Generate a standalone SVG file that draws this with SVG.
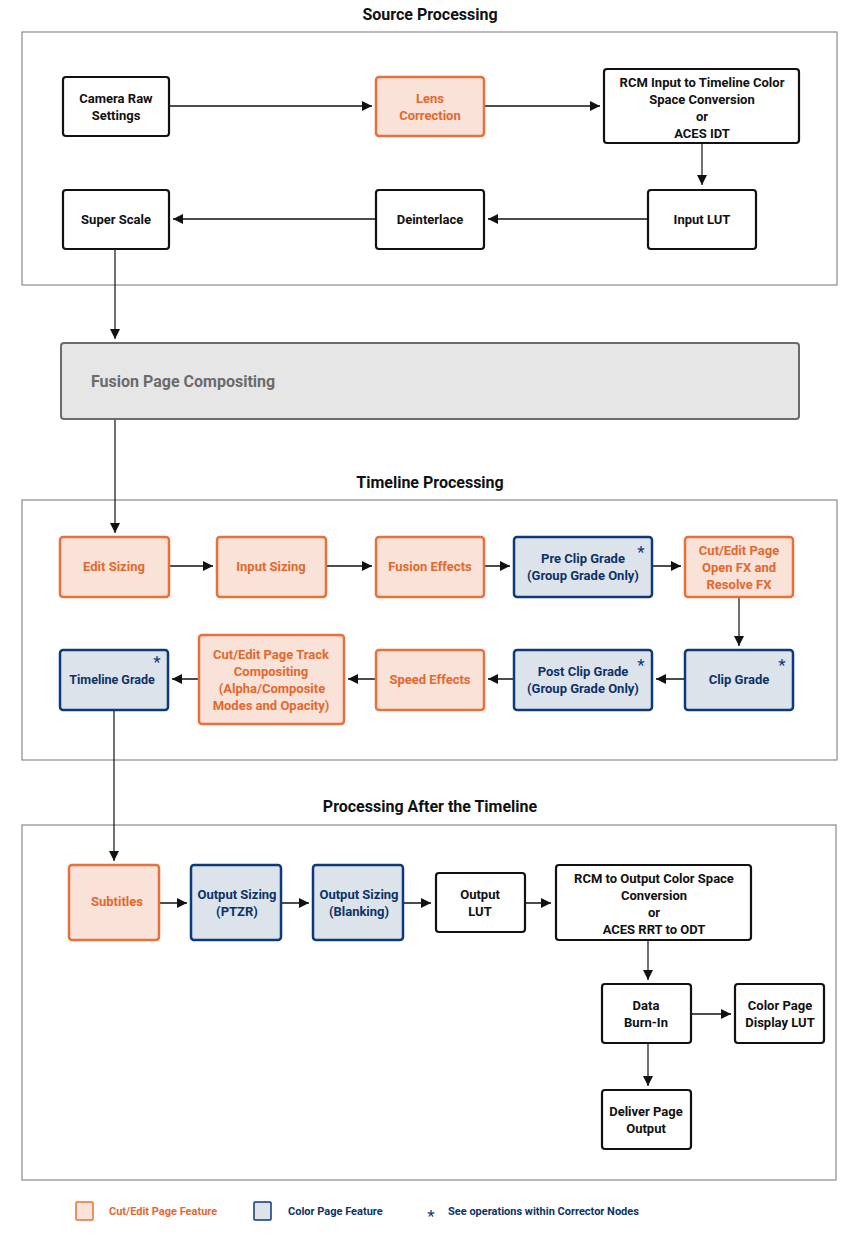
<svg xmlns="http://www.w3.org/2000/svg" width="865" height="1235" viewBox="0 0 865 1235">
<style>
text{font-family:Roboto,"Liberation Sans",sans-serif;font-weight:bold;font-size:13px;text-anchor:middle}
.title{font-size:16px;fill:#111}
.frame{fill:none;stroke:#8a8a8a;stroke-width:1.2}
.w rect{fill:#fff;stroke:#111;stroke-width:2.2}
.w text{fill:#111}
.o rect{fill:#f9e2d8;stroke:#e8703a;stroke-width:2.5}
.o text{fill:#e4682e}
.b rect{fill:#dde3eb;stroke:#0c3a7b;stroke-width:2.5}
.b text{fill:#0c3368}
.b text.ast{font-size:17px;font-weight:normal;fill:#0c3a7b}
.c line{stroke:#111;stroke-width:1.5}
.c .v{stroke-width:1.2}
.leg{font-size:11px;text-anchor:start}
</style>
<defs>
<marker id="ah" viewBox="0 0 10 10" refX="10" refY="5" markerWidth="10" markerHeight="10" markerUnits="userSpaceOnUse" orient="auto">
<path d="M0,0 L10,5 L0,10 z" fill="#111"/>
</marker>
</defs>

<text class="title" x="430" y="20">Source Processing</text>
<rect class="frame" x="22" y="32" width="815" height="253"/>
<text class="title" x="430" y="488">Timeline Processing</text>
<rect class="frame" x="22" y="500" width="815" height="260"/>
<text class="title" x="430" y="812">Processing After the Timeline</text>
<rect class="frame" x="22" y="825" width="814" height="355"/>

<g id="connectors" class="c">
<line x1="169" y1="106" x2="372" y2="106" marker-end="url(#ah)"/>
<line x1="484" y1="106" x2="600" y2="106" marker-end="url(#ah)"/>
<line class="v" x1="702" y1="143" x2="702" y2="185" marker-end="url(#ah)"/>
<line x1="648" y1="219" x2="488" y2="219" marker-end="url(#ah)"/>
<line x1="376" y1="219" x2="173" y2="219" marker-end="url(#ah)"/>
<line class="v" x1="115" y1="249" x2="115" y2="339" marker-end="url(#ah)"/>
<line class="v" x1="115" y1="419" x2="115" y2="533" marker-end="url(#ah)"/>
<line x1="169" y1="566" x2="213" y2="566" marker-end="url(#ah)"/>
<line x1="326" y1="566" x2="372" y2="566" marker-end="url(#ah)"/>
<line x1="484" y1="566" x2="510" y2="566" marker-end="url(#ah)"/>
<line x1="652" y1="566" x2="681" y2="566" marker-end="url(#ah)"/>
<line class="v" x1="739" y1="597" x2="739" y2="646" marker-end="url(#ah)"/>
<line x1="685" y1="679" x2="656" y2="679" marker-end="url(#ah)"/>
<line x1="514" y1="679" x2="488" y2="679" marker-end="url(#ah)"/>
<line x1="376" y1="679" x2="348" y2="679" marker-end="url(#ah)"/>
<line x1="199" y1="679" x2="172" y2="679" marker-end="url(#ah)"/>
<line class="v" x1="114" y1="710" x2="114" y2="861" marker-end="url(#ah)"/>
<line x1="159" y1="903" x2="187" y2="903" marker-end="url(#ah)"/>
<line x1="281" y1="903" x2="309" y2="903" marker-end="url(#ah)"/>
<line x1="403" y1="903" x2="431" y2="903" marker-end="url(#ah)"/>
<line x1="525" y1="903" x2="551" y2="903" marker-end="url(#ah)"/>
<line class="v" x1="648" y1="940" x2="648" y2="980" marker-end="url(#ah)"/>
<line x1="691" y1="1014" x2="731" y2="1014" marker-end="url(#ah)"/>
<line class="v" x1="648" y1="1043" x2="648" y2="1086" marker-end="url(#ah)"/>
</g>

<g id="camera-raw" class="w"><rect x="63" y="77" width="106" height="59" rx="3"/><text x="116" y="103">Camera Raw</text><text x="116" y="120">Settings</text></g>
<g id="lens-correction" class="o"><rect x="376" y="77" width="108" height="59" rx="3"/><text x="430" y="103">Lens</text><text x="430" y="120">Correction</text></g>
<g id="rcm-input" class="w"><rect x="604" y="69" width="195" height="74" rx="3"/><text x="702" y="87">RCM Input to Timeline Color</text><text x="702" y="104">Space Conversion</text><text x="702" y="121">or</text><text x="702" y="138">ACES IDT</text></g>
<g id="super-scale" class="w"><rect x="63" y="190" width="106" height="59" rx="3"/><text x="116" y="224">Super Scale</text></g>
<g id="deinterlace" class="w"><rect x="376" y="190" width="108" height="59" rx="3"/><text x="430" y="224">Deinterlace</text></g>
<g id="input-lut" class="w"><rect x="648" y="190" width="108" height="59" rx="3"/><text x="702" y="224">Input LUT</text></g>

<g id="fusion-page"><rect x="61" y="343" width="738" height="76" rx="3" fill="#e6e6e6" stroke="#6b6b6b" stroke-width="2"/><text x="91" y="387" style="text-anchor:start;font-size:16px;fill:#6b6b6b">Fusion Page Compositing</text></g>

<g id="edit-sizing" class="o"><rect x="60" y="537" width="109" height="60" rx="3"/><text x="114" y="571">Edit Sizing</text></g>
<g id="input-sizing" class="o"><rect x="217" y="537" width="109" height="60" rx="3"/><text x="271" y="571">Input Sizing</text></g>
<g id="fusion-effects" class="o"><rect x="376" y="537" width="108" height="60" rx="3"/><text x="430" y="571">Fusion Effects</text></g>
<g id="pre-clip-grade" class="b"><rect x="514" y="537" width="138" height="60" rx="3"/><text x="583" y="563">Pre Clip Grade</text><text x="583" y="580">(Group Grade Only)</text><text class="ast" x="641" y="558">*</text></g>
<g id="open-fx" class="o"><rect x="685" y="537" width="108" height="60" rx="3"/><text x="739" y="555">Cut/Edit Page</text><text x="739" y="572">Open FX and</text><text x="739" y="589">Resolve FX</text></g>
<g id="timeline-grade" class="b"><rect x="60" y="650" width="108" height="60" rx="3"/><text x="112" y="684" style="font-size:12.5px">Timeline Grade</text><text class="ast" x="157" y="668">*</text></g>
<g id="track-compositing" class="o"><rect x="199" y="635" width="145" height="89" rx="3"/><text x="271" y="659">Cut/Edit Page Track</text><text x="271" y="676">Compositing</text><text x="272" y="693">(Alpha/Composite</text><text x="271" y="710">Modes and Opacity)</text></g>
<g id="speed-effects" class="o"><rect x="376" y="650" width="108" height="60" rx="3"/><text x="430" y="684">Speed Effects</text></g>
<g id="post-clip-grade" class="b"><rect x="514" y="650" width="138" height="60" rx="3"/><text x="583" y="676">Post Clip Grade</text><text x="583" y="693">(Group Grade Only)</text><text class="ast" x="641" y="671">*</text></g>
<g id="clip-grade" class="b"><rect x="685" y="650" width="108" height="60" rx="3"/><text x="739" y="684">Clip Grade</text><text class="ast" x="782" y="671">*</text></g>

<g id="subtitles" class="o"><rect x="69" y="865" width="90" height="75" rx="3"/><text x="117" y="906">Subtitles</text></g>
<g id="output-sizing-ptzr" class="b"><rect x="191" y="865" width="90" height="75" rx="3"/><text x="237" y="899">Output Sizing</text><text x="237" y="916">(PTZR)</text></g>
<g id="output-sizing-blanking" class="b"><rect x="313" y="865" width="90" height="75" rx="3"/><text x="359" y="899">Output Sizing</text><text x="359" y="916">(Blanking)</text></g>
<g id="output-lut" class="w"><rect x="436" y="873" width="89" height="59" rx="3"/><text x="480" y="899">Output</text><text x="480" y="916">LUT</text></g>
<g id="rcm-output" class="w"><rect x="556" y="865" width="195" height="75" rx="3"/><text x="654" y="883">RCM to Output Color Space</text><text x="654" y="900">Conversion</text><text x="654" y="917">or</text><text x="654" y="934">ACES RRT to ODT</text></g>
<g id="data-burn-in" class="w"><rect x="602" y="984" width="89" height="59" rx="3"/><text x="646" y="1010">Data</text><text x="646" y="1027">Burn-In</text></g>
<g id="display-lut" class="w"><rect x="735" y="984" width="89" height="59" rx="3"/><text x="780" y="1010">Color Page</text><text x="780" y="1027">Display LUT</text></g>
<g id="deliver-output" class="w"><rect x="602" y="1090" width="89" height="59" rx="3"/><text x="646" y="1116">Deliver Page</text><text x="646" y="1133">Output</text></g>

<g id="legend">
<rect x="76" y="1202" width="17" height="18" rx="1" fill="#f9e2d8" stroke="#e8703a" stroke-width="1.5"/>
<text class="leg" x="109" y="1215" fill="#e4682e">Cut/Edit Page Feature</text>
<rect x="254" y="1202" width="17" height="18" rx="1" fill="#dde3eb" stroke="#0c3a7b" stroke-width="1.5"/>
<text class="leg" x="288" y="1215" fill="#0c3368">Color Page Feature</text>
<text x="431" y="1222" style="font-size:17px;font-weight:normal;fill:#0c3a7b">*</text>
<text class="leg" x="448" y="1215" fill="#0c3368">See operations within Corrector Nodes</text>
</g>
</svg>
